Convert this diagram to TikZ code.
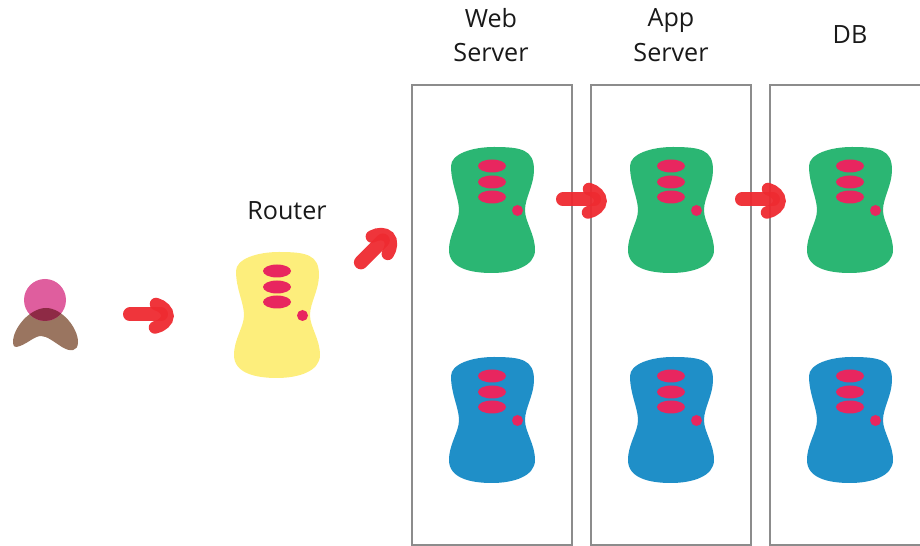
\documentclass[tikz,border=0pt]{standalone}
\usepackage{fontspec}
\setmainfont{Open Sans}
\definecolor{servergreen}{HTML}{2BB673}
\definecolor{serverblue}{HTML}{1F8FC8}
\definecolor{routeryellow}{HTML}{FDEE7C}
\definecolor{ledpink}{HTML}{E8265F}
\definecolor{arrowred}{HTML}{EE2A30}
\definecolor{headpink}{HTML}{DF5E9E}
\definecolor{bodybrown}{HTML}{9A7560}
\definecolor{overlapred}{HTML}{8E2A45}
\definecolor{boxgray}{HTML}{8C8C8C}

\tikzset{
	tierbox/.style={draw=boxgray, line width=0.6pt, minimum width=160*0.02cm, minimum height=460*0.02cm, inner sep=0pt},
	tierlabel/.style={font=\fontsize{14.3}{19.5}\selectfont, align=center, text=black!90},
	pics/server/.style={code={
		% body
		\fill[#1] (-41,-44) .. controls (-41,-56) and (-20,-63) .. (2,-63)
			.. controls (30,-63) and (42,-60) .. (42,-40)
			.. controls (42,-25) and (33,-12) .. (33,0)
			.. controls (33,12) and (43,24) .. (43,40)
			.. controls (43,56) and (22,63) .. (0,63)
			.. controls (-22,63) and (-43,58) .. (-43,40)
			.. controls (-43,24) and (-33,12) .. (-33,0)
			.. controls (-33,-12) and (-41,-26) .. (-41,-44) -- cycle;
		% disks
		\foreach \y in {-44,-28,-13} {
			\fill[ledpink] (0,\y) ellipse (14 and 6.5);
		}
		% led
		\fill[ledpink] (25.5,0.5) circle (5.5);
	}},
	pics/flow/.style={code={
		\draw[arrowred, line width=14*0.02cm, line cap=round, opacity=0.95] (-18,-0.5) -- (13,-0.5);
		\draw[arrowred, line width=12.5*0.02cm, line cap=round, opacity=0.95] (8,-11) .. controls (15,-9) and (19.5,-4) .. (19.5,1) .. controls (19.5,6) and (14,11) .. (7,12.5);
	}}
}

\begin{document}
\begin{tikzpicture}[x=0.02cm, y=-0.02cm]
	\useasboundingbox (0,0) rectangle (920,546);

	% tier boxes
	\node[tierbox] (webbox) at (492,315) {};
	\node[tierbox] (appbox) at (671,315) {};
	\node[tierbox] (dbbox) at (850,315) {};

	% labels
	\node[tierlabel] (weblabel) at (491,35) {Web\\Server};
	\node[tierlabel] (applabel) at (671,35) {App\\Server};
	\node[tierlabel] (dblabel) at (850,35) {DB};
	\node[tierlabel] (routerlabel) at (287,211) {Router};

	% user
	\fill[bodybrown] (13,342) .. controls (13,328) and (30,308) .. (46,308)
		.. controls (62,308) and (78,328) .. (78,342)
		.. controls (78,352) and (70,352) .. (62,347)
		.. controls (54,342) and (47,336) .. (41,336)
		.. controls (35,336) and (28,343) .. (20,346)
		.. controls (15,348) and (13,347) .. (13,342) -- cycle;
	\fill[headpink] (45,300) circle (21);
	\begin{scope} % head over body
		\clip (45,300) circle (21);
		\fill[overlapred] (13,342) .. controls (13,328) and (30,308) .. (46,308)
			.. controls (62,308) and (78,328) .. (78,342) -- cycle;
	\end{scope}

	% router
	\pic (router) at (277,315) {server=routeryellow};

	% servers
	\foreach \x/\n in {492/web, 671/app, 850/db} {
		\pic (\n top) at (\x,210) {server=servergreen};
		\pic (\n bottom) at (\x,420) {server=serverblue};
	}

	% arrows
	\pic (flowa) at (148,315) {flow};
	\pic (flowb) at (581,200) {flow};
	\pic (flowc) at (760,200) {flow};
	\pic[rotate=45] (flowd) at (374,250) {flow};
\end{tikzpicture}
\end{document}
